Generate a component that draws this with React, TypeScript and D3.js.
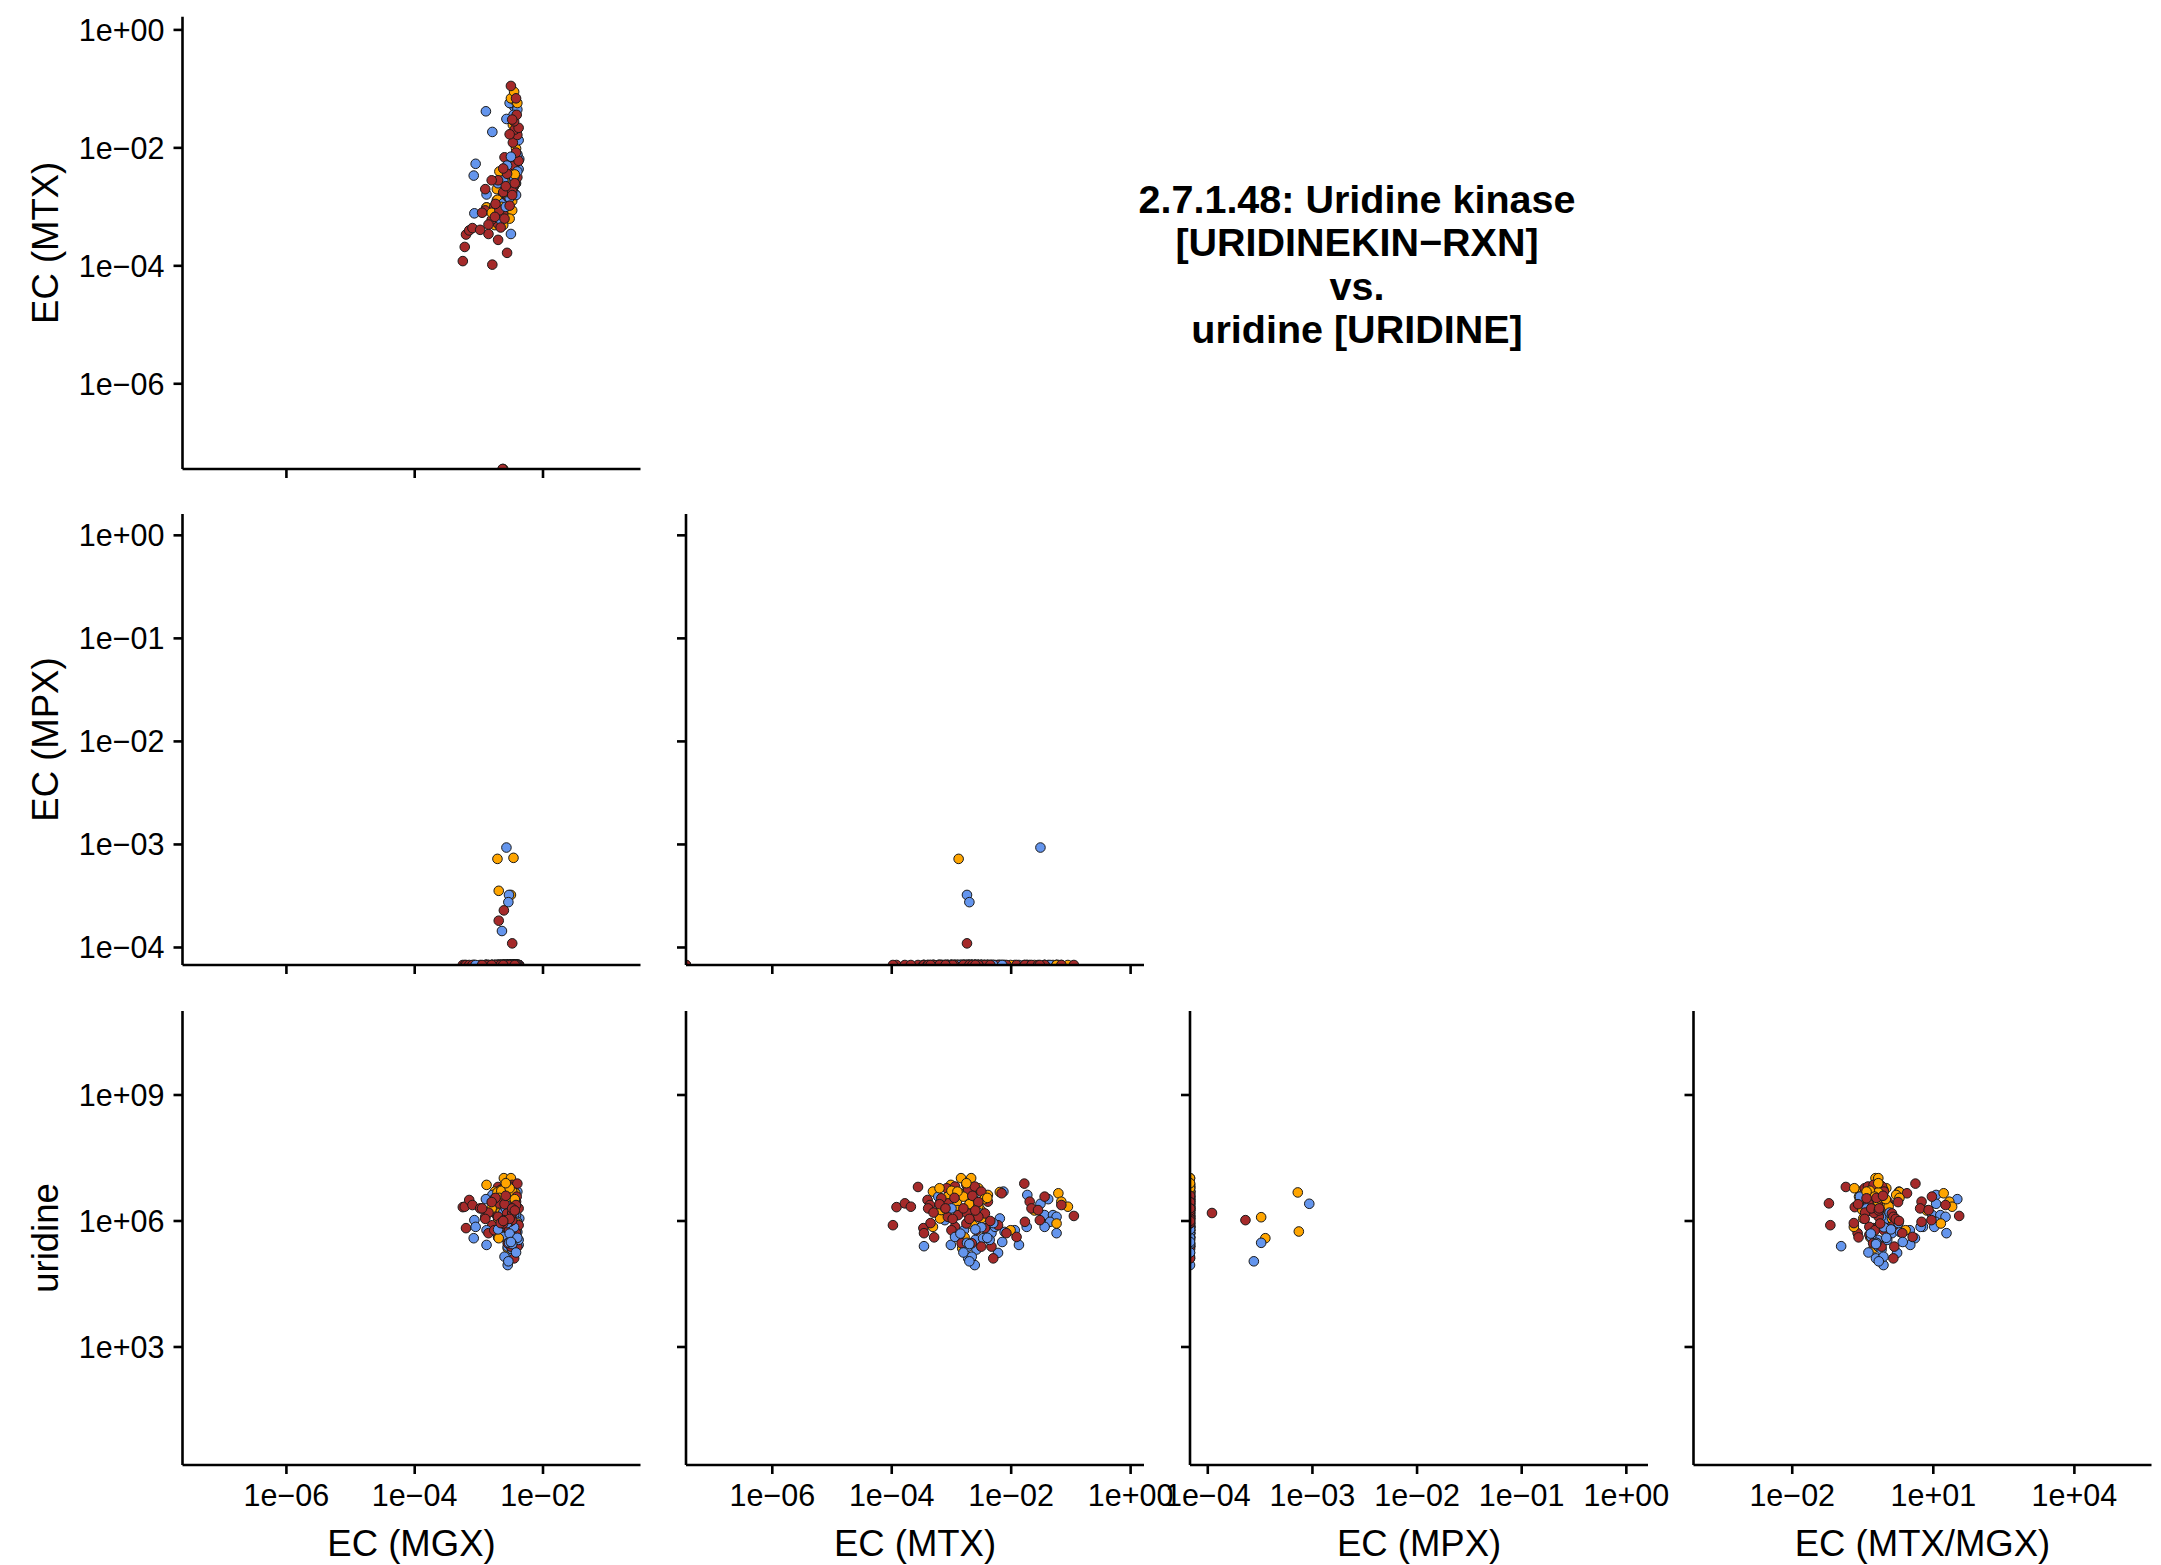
import React from 'react';
import * as d3 from 'd3';

// log10 abundances; Z = zero abundance (squished onto the axis floor), NA = missing
const Z = -Infinity;
const NA = null;

const redMGX = [-2.70,-3.25,-2.56,-3.22,-2.79,-3.20,-2.85,-2.70,-3.15,-3.10,
  -2.98,-2.80,-2.62,-2.55,-2.48,-2.66,-2.52,-2.45,-2.42,-2.60,
  -2.72,-2.90,-2.58,-2.76,-2.50,-2.64,-2.44,-2.53,-2.46,-2.40,
  -2.50,-2.45,-2.55,-2.38,-2.42,-2.47,-2.40,-2.44,-2.52,-2.38,
  -2.45,-2.41,-2.48,-2.50,-2.42,-2.68,-2.75,-2.56,-2.62,-2.70,
  -2.63,-2.61,-2.69,-2.48,
  -2.85,-2.60,-2.74,-2.48,-2.90,-2.58,-2.66,-2.52,-2.80,-2.44,-2.95,-2.62];
const redMTX = [-3.56,-3.92,-3.78,-3.68,-3.98,-3.47,-3.46,-3.29,-3.40,-3.36,
  -3.39,-3.22,-3.08,-2.94,-2.75,-2.72,-2.61,-2.50,-2.39,-2.16,
  -2.89,-3.06,-2.94,-3.00,-2.86,-2.72,-2.44,-2.58,-2.66,-2.50,
  -2.33,-2.30,-2.83,-2.22,-2.08,-1.91,-1.78,-1.69,-1.77,-1.66,
  -1.55,-1.44,-1.52,-0.95,-1.16,-3.06,-3.17,-2.44,-2.75,-2.55,
  Z,NA,NA,-2.74,
  -3.30,-3.20,-2.95,-2.80,-2.70,-2.65,-3.35,-2.98,-2.55,-2.60,-3.10,-2.35];
const redMPX = [Z,Z,Z,Z,Z,Z,Z,Z,Z,Z, Z,Z,Z,Z,Z,Z,Z,Z,Z,Z, Z,Z,Z,Z,Z,Z,Z,Z,Z,Z,
  Z,Z,Z,Z,Z,Z,Z,Z,Z,Z, Z,Z,Z,Z,Z,Z,Z,Z,Z,Z, Z,-3.64,-3.74,-3.96,
  Z,Z,Z,Z,Z,Z,Z,Z,Z,Z,Z,Z];
const redURI = [6.81,6.33,6.42,6.34,5.90,5.83,5.71,5.61,6.50,6.38,
  6.30,6.22,6.78,6.82,6.86,6.74,6.82,6.70,6.46,6.66,
  6.14,6.10,5.86,5.78,5.67,6.34,5.83,5.78,5.47,5.39,
  5.39,5.11,5.47,5.90,5.71,5.62,6.89,6.46,5.98,6.30,
  6.26,6.58,6.02,6.12,6.38,6.42,6.54,6.18,5.94,6.10,
  NA,6.02,NA,6.19,
  6.20,6.40,6.55,6.30,6.05,6.60,5.95,6.05,6.45,6.25,6.30,6.00];

const orangeMGX = [-2.75,-2.61,-2.50,-2.88,-2.55,-2.65,-2.58,-2.52,-2.45,-2.47,
  -2.60,-2.62,-2.70,-2.48,-2.43,-2.55,-2.46,-2.57,-2.50,-2.44,
  -2.55,-2.68,-2.42,-2.47,-2.43,-2.50,-2.45,-2.40,-2.66,-2.62,
  -2.71,-2.46,-2.69,-2.50,-2.62,
  -2.65,-2.55,-2.72,-2.48,-2.60,-2.80,-2.52,-2.44,-2.58,-2.68];
const orangeMTX = [-3.31,-2.84,-2.67,-3.01,-2.55,-2.97,-3.14,-2.91,-2.78,-2.19,
  -2.39,-3.31,-3.19,-3.06,-2.61,-2.51,-2.66,-2.89,-2.64,-2.78,
  -2.82,-2.69,-2.01,-1.61,-1.21,-1.16,-1.05,-1.24,-3.17,-2.50,
  -2.88,NA,NA,NA,Z,
  -3.00,-2.80,-2.70,-2.90,-2.55,-3.10,-3.20,-2.45,-2.75,-2.40];
const orangeMPX = [Z,Z,Z,Z,Z,Z,Z,Z,Z,Z, Z,Z,Z,Z,Z,Z,Z,Z,Z,Z, Z,Z,Z,Z,Z,Z,Z,Z,Z,Z,
  -3.14,-3.13,-3.45,-3.49,Z,
  Z,Z,Z,Z,Z,Z,Z,Z,Z,Z];
const orangeURI = [6.70,7.02,7.02,6.86,6.78,6.62,6.50,6.46,6.66,6.69,
  6.62,5.86,6.06,6.58,6.42,6.26,6.18,6.26,5.90,5.61,
  5.35,6.50,5.78,6.25,6.66,6.46,6.34,5.94,6.26,6.06,
  6.68,5.75,5.59,6.09,NA,
  6.72,6.58,6.40,6.70,6.35,6.30,6.78,6.52,6.90,6.55];

const blueMGX = [-2.50,-2.88,-2.57,-2.40,-3.07,-2.88,-2.55,-2.42,-3.08,-2.45,
  -2.37,-3.05,-2.40,-2.44,-2.47,-2.79,-2.89,-2.42,-2.45,-2.50,
  -2.40,-2.46,-2.52,-2.38,-2.45,-2.55,-2.48,-2.50,-2.55,-2.60,
  -2.38,-2.62,-2.66,-2.57,-2.53,-2.54,-2.64,
  -2.45,-2.52,-2.40,-2.62,-2.48,-2.56,-2.42,-2.70,-2.50,-2.58];
const blueMTX = [-3.46,-3.01,-2.61,-2.13,-3.11,-2.79,-2.66,-2.60,-2.47,-2.33,
  -2.19,-2.27,-2.11,-1.94,-1.74,-1.73,-1.38,-1.44,-1.30,-1.24,
  -1.35,-1.44,-1.24,-1.87,-2.22,-2.72,-2.58,-2.72,-2.61,-2.66,
  -2.36,-2.94,-3.22,-1.51,-2.74,-2.70,NA,
  -2.50,-2.85,-2.40,-2.55,-2.70,-2.30,-2.80,-2.60,-2.15,-3.00];
const blueMPX = [Z,Z,Z,Z,Z,Z,Z,Z,Z,Z, Z,Z,Z,Z,Z,Z,Z,Z,Z,Z, Z,Z,Z,Z,Z,Z,Z,Z,Z,Z,
  Z,Z,Z,-3.03,-3.49,-3.56,-3.84,
  Z,Z,Z,Z,Z,Z,Z,Z,Z,Z];
const blueURI = [5.40,5.43,6.50,6.70,6.02,5.78,6.10,5.55,5.59,5.71,
  6.06,5.86,5.74,5.78,5.86,6.62,6.52,6.14,6.14,6.10,
  5.98,5.86,5.71,5.43,5.24,5.39,5.32,5.11,4.95,5.15,
  5.55,5.62,6.58,6.41,5.48,5.04,NA,
  5.85,5.70,5.60,6.20,5.45,5.95,5.25,5.80,5.50,6.30];

const titleLines = ['2.7.1.48: Uridine kinase', '[URIDINEKIN\u2212RXN]', 'vs.', 'uridine [URIDINE]'];

type Var = 'mgx' | 'mtx' | 'mpx' | 'uri' | 'ratio';
const DOMAIN: Record<Var, [number, number]> = {
  mgx: [-7.62, -0.48], mtx: [-7.445, 0.224], mpx: [-4.17, 0.207], uri: [0.19, 11.0], ratio: [-4.10, 5.64],
};
const TICKS: Record<Var, number[]> = {
  mgx: [-6, -4, -2], mtx: [-6, -4, -2, 0], mpx: [-4, -3, -2, -1, 0], uri: [3, 6, 9], ratio: [-2, 1, 4],
};
const rowTitles = ['EC (MTX)', 'EC (MPX)', 'uridine'];
const colTitles = ['EC (MGX)', 'EC (MTX)', 'EC (MPX)', 'EC (MTX/MGX)'];

const W = 2161, H = 1565;
const FONT = '"Liberation Sans", Arial, Helvetica, sans-serif';
const COLS: [number, number][] = [[182.5, 640.5], [686, 1144], [1190, 1648], [1693.5, 2151.5]];
const ROWS: [number, number][] = [[16.7, 469], [514, 965], [1011, 1465]];
const COLORS = { red: '#A52A2A', orange: '#FFA500', blue: '#6495ED' };

const PANELS: { r: number; c: number; x: Var; y: Var }[] = [
  { r: 0, c: 0, x: 'mgx', y: 'mtx' },
  { r: 1, c: 0, x: 'mgx', y: 'mpx' },
  { r: 1, c: 1, x: 'mtx', y: 'mpx' },
  { r: 2, c: 0, x: 'mgx', y: 'uri' },
  { r: 2, c: 1, x: 'mtx', y: 'uri' },
  { r: 2, c: 2, x: 'mpx', y: 'uri' },
  { r: 2, c: 3, x: 'ratio', y: 'uri' },
];

type Sample = { color: string; mgx: number | null; mtx: number | null; mpx: number | null; uri: number | null; ratio: number | null };

function group(color: string, mgx: (number | null)[], mtx: (number | null)[], mpx: (number | null)[], uri: (number | null)[]): Sample[] {
  return mgx.map((g, i) => {
    const t = mtx[i];
    return {
      color, mgx: g, mtx: t, mpx: mpx[i], uri: uri[i],
      ratio: g == null || t == null ? null : t - g,
    };
  });
}

const groups = [
  group(COLORS.red, redMGX, redMTX, redMPX, redURI),
  group(COLORS.orange, orangeMGX, orangeMTX, orangeMPX, orangeURI),
  group(COLORS.blue, blueMGX, blueMTX, blueMPX, blueURI),
];
const samples: Sample[] = [];
const maxLen = d3.max(groups, (g) => g.length) as number;
for (let i = 0; i < maxLen; i++) for (const g of groups) if (g[i]) samples.push(g[i]);

function fmt(e: number) {
  return `1e${e < 0 ? '\u2212' : '+'}${String(Math.abs(e)).padStart(2, '0')}`;
}

function makeScale(v: Var, range: [number, number]) {
  const [lo, hi] = DOMAIN[v];
  return d3.scaleLog().domain([10 ** lo, 10 ** hi]).range(range);
}

const TICK_FS = 30.5;
const TITLE_FS = 36.5;

export default function App() {
  return (
    <div style={{ position: 'absolute', left: 0, top: 0 }}>
      <svg width={W} height={H} viewBox={`0 0 ${W} ${H}`} style={{ display: 'block', background: '#fff' }} fontFamily={FONT}>
        <defs>
          {PANELS.map((p, k) => (
            <clipPath id={`clip${k}`} key={k}>
              <rect x={COLS[p.c][0]} y={ROWS[p.r][0]} width={COLS[p.c][1] - COLS[p.c][0]} height={ROWS[p.r][1] - ROWS[p.r][0]} />
            </clipPath>
          ))}
        </defs>
        {PANELS.map((p, k) => {
          const [x0, x1] = COLS[p.c];
          const [y0, y1] = ROWS[p.r];
          const xs = makeScale(p.x, [x0, x1]);
          const ys = makeScale(p.y, [y1, y0]);
          const [xlo] = DOMAIN[p.x];
          const [ylo] = DOMAIN[p.y];
          const pts = samples.filter((s) => s[p.x] != null && s[p.y] != null);
          const showX = p.r === 2;
          const showY = p.c === 0;
          return (
            <g key={k}>
              <g clipPath={`url(#clip${k})`}>
                {pts.map((s, i) => (
                  <circle key={i}
                    cx={xs(10 ** Math.max(s[p.x] as number, xlo))}
                    cy={ys(10 ** Math.max(s[p.y] as number, ylo))}
                    r={4.8} fill={s.color} stroke="#1a1a1a" strokeWidth={1} />
                ))}
              </g>
              <line x1={x0} x2={x1} y1={y1} y2={y1} stroke="#000" strokeWidth={2.6} />
              <line x1={x0} x2={x0} y1={y0} y2={y1} stroke="#000" strokeWidth={2.6} />
              {TICKS[p.x].map((t) => {
                const x = xs(10 ** t);
                return (
                  <g key={`x${t}`}>
                    <line x1={x} x2={x} y1={y1} y2={y1 + 9} stroke="#000" strokeWidth={2.6} />
                    {showX && (
                      <text x={x} y={1506} textAnchor="middle" fontSize={TICK_FS} fill="#000">{fmt(t)}</text>
                    )}
                  </g>
                );
              })}
              {TICKS[p.y].map((t) => {
                const y = ys(10 ** t);
                return (
                  <g key={`y${t}`}>
                    <line x1={x0 - 9} x2={x0} y1={y} y2={y} stroke="#000" strokeWidth={2.6} />
                    {showY && (
                      <text x={x0 - 18} y={y + 0.358 * TICK_FS} textAnchor="end" fontSize={TICK_FS} fill="#000">{fmt(t)}</text>
                    )}
                  </g>
                );
              })}
            </g>
          );
        })}
        {rowTitles.map((t, r) => (
          <text key={t + r} transform={`translate(58,${(ROWS[r][0] + ROWS[r][1]) / 2}) rotate(-90)`} textAnchor="middle" fontSize={TITLE_FS} fill="#000">{t}</text>
        ))}
        {colTitles.map((t, c) => (
          <text key={t + c} x={(COLS[c][0] + COLS[c][1]) / 2} y={1556} textAnchor="middle" fontSize={TITLE_FS} fill="#000">{t}</text>
        ))}
        {titleLines.map((t, i) => (
          <text key={i} x={1357} y={213 + i * 43.4} textAnchor="middle" fontSize={39.5} fontWeight="bold" fill="#000">{t}</text>
        ))}
      </svg>
    </div>
  );
}
